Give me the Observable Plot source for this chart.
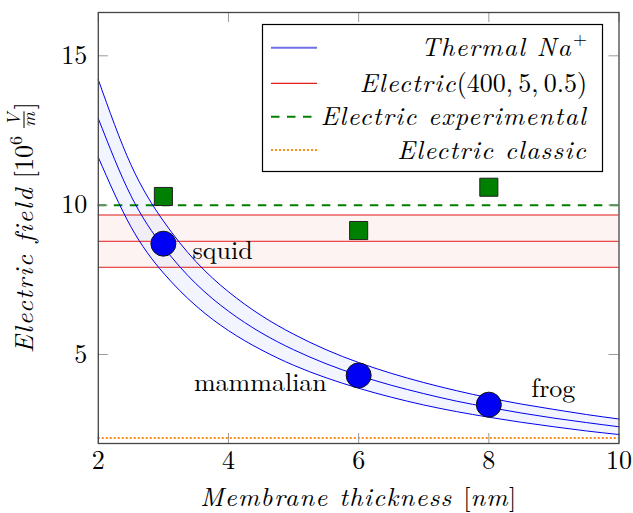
<!DOCTYPE html>
<html><head><meta charset="utf-8">
<script src="https://cdn.jsdelivr.net/npm/d3@7"></script>
<script src="https://cdn.jsdelivr.net/npm/@observablehq/plot@0.6"></script>
<style>body{margin:0;background:#fff} svg text, svg tspan{font-family:'Latin Modern Roman','Liberation Serif',serif !important}</style>
</head><body><div id="chart"></div>
<script>
// ---- data ----
const thickness   = [2, 2.5, 3, 3.5, 4, 4.5, 5, 5.5, 6, 6.5, 7, 7.5, 8, 8.5, 9, 9.5, 10];
const thermalHigh = [14.2, 11.36, 9.47, 8.11, 7.10, 6.31, 5.68, 5.16, 4.73, 4.37, 4.06, 3.79, 3.55, 3.34, 3.16, 2.99, 2.84];
const thermalMid  = [12.9, 10.32, 8.60, 7.37, 6.45, 5.73, 5.16, 4.69, 4.30, 3.97, 3.69, 3.44, 3.23, 3.04, 2.87, 2.72, 2.58];
const thermalLow  = [11.6, 9.28, 7.73, 6.63, 5.80, 5.16, 4.64, 4.22, 3.87, 3.57, 3.31, 3.09, 2.90, 2.73, 2.58, 2.44, 2.32];

const electricLevels = [7.92, 8.79, 9.67];   // low, mid, high of Electric(400,5,0.5)
const experimentalLevel = 10.0;
const classicLevel = 2.2;

const siteNames = ["squid", "mammalian", "frog"];
const siteThickness = [3, 6, 8];
const siteField = [8.71, 4.30, 3.32];
const labelX = [3.91, 4.49, 8.99];
const labelY = [8.46, 4.07, 3.85];

const expThickness = [3, 6, 8];
const expField = [10.29, 9.15, 10.6];

const xTicks = [2, 4, 6, 8, 10];
const yTicks = [5, 10, 15];
const xDomain = [2, 10];
const yDomain = [2.02, 16.45];

// ---- tables ----
const thermal = thickness.map((x, i) => ({x, high: thermalHigh[i], mid: thermalMid[i], low: thermalLow[i]}));
const band = xDomain.map(x => ({x, low: electricLevels[0], high: electricLevels[2]}));
const sites = siteNames.map((name, i) => ({name, x: siteThickness[i], y: siteField[i], lx: labelX[i], ly: labelY[i]}));
const exp = expThickness.map((x, i) => ({x, y: expField[i]}));

const W = 633, H = 513, mL = 97.8, mR = 14.5, mT = 12, mB = 70;
const innerH = H - mT - mB, innerW = W - mL - mR;
const FONT = "'Latin Modern Roman', 'Liberation Serif', serif";
const MATH_LS = "1.3";   // extra spacing to mimic math-italic widths

const chart = Plot.plot({
  width: W, height: H,
  marginLeft: mL, marginRight: mR, marginTop: mT, marginBottom: mB,
  x: {domain: xDomain},
  y: {domain: yDomain},
  style: {fontFamily: FONT, fontSize: "26px", background: "white", color: "black"},
  marks: [
    Plot.areaY(band, {x: "x", y1: "low", y2: "high", fill: "#fdf3f3"}),
    Plot.areaY(thermal, {x: "x", y1: "low", y2: "high", fill: "#dfe5ff", fillOpacity: 0.4, curve: "natural"}),
    Plot.ruleY(electricLevels, {stroke: "#e21b1b", strokeWidth: 1}),
    Plot.ruleY([experimentalLevel], {stroke: "#008000", strokeWidth: 2, strokeDasharray: "8.5,7.5"}),
    Plot.ruleY([classicLevel], {stroke: "#ff8c1a", strokeWidth: 2, strokeDasharray: "2,2"}),
    Plot.line(thermal, {x: "x", y: "high", stroke: "#0000ee", strokeWidth: 1, curve: "natural"}),
    Plot.line(thermal, {x: "x", y: "mid", stroke: "#0000ee", strokeWidth: 1, curve: "natural"}),
    Plot.line(thermal, {x: "x", y: "low", stroke: "#0000ee", strokeWidth: 1, curve: "natural"}),
    Plot.dot(exp, {x: "x", y: "y", symbol: "square", r: 10.2, fill: "#008000", stroke: "#222", strokeWidth: 1}),
    Plot.dot(sites, {x: "x", y: "y", r: 12.5, fill: "#0000f5", stroke: "#111", strokeWidth: 1}),
    Plot.text(sites, {x: "lx", y: "ly", text: "name", fontSize: 26, fill: "black", textAnchor: "middle"}),
    // inward ticks on all four sides
    Plot.tickX(xTicks, {x: d => d, stroke: "#9a9a9a", insetTop: innerH - 10}),
    Plot.tickX(xTicks, {x: d => d, stroke: "#9a9a9a", insetBottom: innerH - 10}),
    Plot.tickY(yTicks, {y: d => d, stroke: "#9a9a9a", insetRight: innerW - 10}),
    Plot.tickY(yTicks, {y: d => d, stroke: "#9a9a9a", insetLeft: innerW - 10}),
    Plot.axisX({ticks: xTicks, tickSize: 0, tickPadding: 7.5, fontSize: 26, label: null}),
    Plot.axisY({ticks: yTicks, tickSize: 0, tickPadding: 11, fontSize: 26, label: null}),
    Plot.frame({stroke: "#444", strokeWidth: 1.3})
  ]
});
document.getElementById("chart").append(chart);

const svg = d3.select(chart);

// x-axis title
const xs = chart.scale("x");
const xt = svg.append("text").attr("x", (xs.range[0] + xs.range[1]) / 2).attr("y", 505.5)
  .attr("text-anchor", "middle").attr("font-size", 26);
xt.append("tspan").attr("font-style", "italic").attr("letter-spacing", MATH_LS).text("Membrane thickness ");
xt.append("tspan").text("[");
xt.append("tspan").attr("font-style", "italic").attr("letter-spacing", MATH_LS).text("nm");
xt.append("tspan").text("]");

// y-axis title (rotated, with stacked fraction V/m)
const ys = chart.scale("y");
const yCenter = (ys.range[0] + ys.range[1]) / 2;
const yg = svg.append("g").attr("transform", `translate(33,${yCenter}) rotate(-90)`);
const yl = yg.append("text").attr("text-anchor", "middle").attr("font-size", 26);
yl.append("tspan").attr("font-style", "italic").attr("letter-spacing", "1.6").text("Electric field");
yl.append("tspan").text(" [10");
yl.append("tspan").attr("font-size", 18).attr("dy", -11).text("6");
yl.append("tspan").attr("font-size", 18).attr("font-style", "italic").attr("dx", 10).attr("dy", -2).text("V");
yl.append("tspan").attr("font-size", 18).attr("font-style", "italic").attr("dx", -13).attr("dy", 15).text("m");
yl.append("tspan").attr("dx", 3).attr("dy", -2).text("]");
const bar = yg.append("line").attr("stroke", "black").attr("stroke-width", 1);
function placeBar() {
  try {
    const n = yl.node();
    const idx = "Electric field".length + " [10".length + 1 + 1; // index of "m"
    const rm = n.getExtentOfChar(idx), rv = n.getExtentOfChar(idx - 1);
    const x1 = Math.min(rm.x, rv.x) - 1, x2 = Math.max(rm.x + rm.width, rv.x + rv.width) + 1;
    bar.attr("x1", x1).attr("x2", x2).attr("y1", -9).attr("y2", -9);
  } catch (e) {}
}
placeBar();
if (document.fonts && document.fonts.ready) document.fonts.ready.then(placeBar);

// legend
const lg = svg.append("g").attr("font-size", 26);
lg.append("rect").attr("x", 262.5).attr("y", 24.5).attr("width", 340).attr("height", 147)
  .attr("fill", "white").attr("stroke", "black").attr("stroke-width", 1.2);
const legendEntries = [
  {stroke: "#7070e8", width: 2, dash: null, y: 47.7},
  {stroke: "#e21b1b", width: 1.2, dash: null, y: 83.3},
  {stroke: "#008000", width: 2, dash: "8.5,7.5", y: 116.7},
  {stroke: "#ff8c1a", width: 2, dash: "2,2", y: 150}
];
legendEntries.forEach((e, i) => {
  lg.append("line").attr("x1", 271).attr("x2", 317).attr("y1", e.y).attr("y2", e.y)
    .attr("stroke", e.stroke).attr("stroke-width", e.width).attr("stroke-dasharray", e.dash);
  const t = lg.append("text").attr("x", 587).attr("y", e.y + 8.5).attr("text-anchor", "end");
  const it = s => t.append("tspan").attr("font-style", "italic").attr("letter-spacing", MATH_LS).text(s);
  if (i === 0) { it("Thermal Na"); t.append("tspan").attr("font-size", 18).attr("dx", 1).attr("dy", -11).text("+"); }
  if (i === 1) { it("Electric"); t.append("tspan").text("(400,\u20095,\u20090.5)"); }
  if (i === 2) { it("Electric experimental"); }
  if (i === 3) { it("Electric classic"); }
});
</script>
</body></html>
